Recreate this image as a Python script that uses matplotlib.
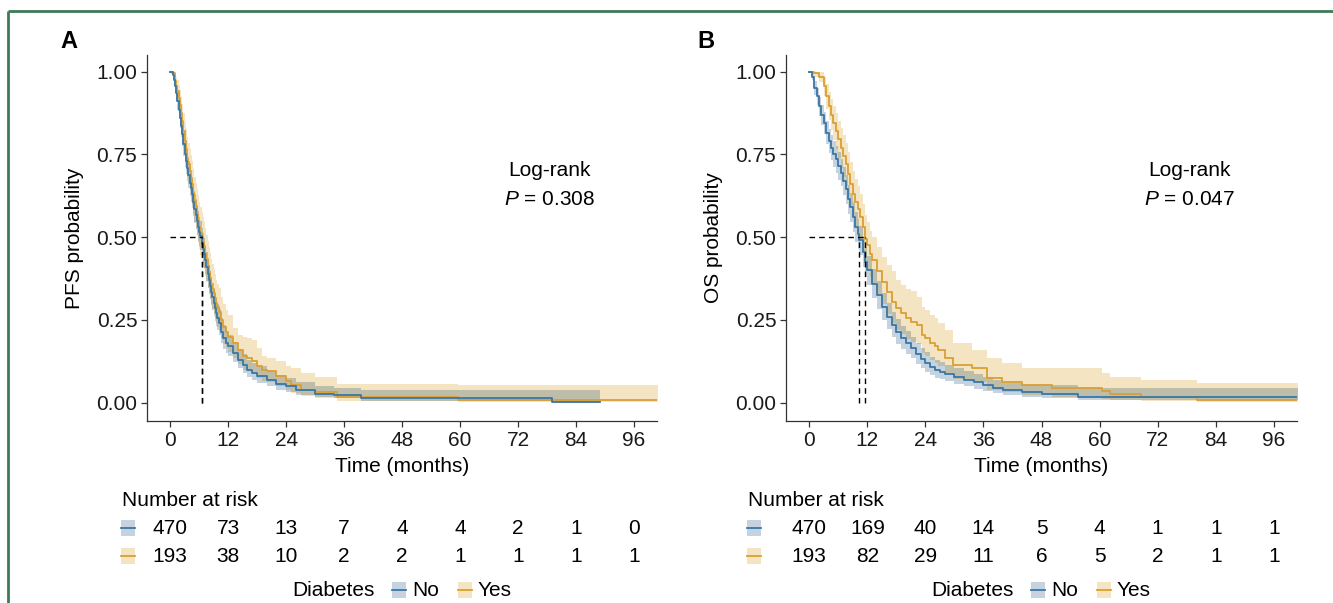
import numpy as np
import matplotlib
matplotlib.use("Agg")
import matplotlib.pyplot as plt
from matplotlib.patches import Rectangle
from matplotlib.transforms import blended_transform_factory

plt.rcParams["font.family"] = ["Liberation Sans", "DejaVu Sans"]
plt.rcParams["mathtext.fontset"] = "custom"
plt.rcParams["mathtext.rm"] = "Liberation Sans"
plt.rcParams["mathtext.it"] = "Liberation Sans:italic"

# ---- data ----
risk_times = [0, 12, 24, 36, 48, 60, 72, 84, 96]

# PFS, no diabetes
pfs_no_t = [0, 0.25, 0.5, 0.75, 1, 1.25, 1.5, 1.75, 2, 2.25, 2.5, 2.75, 3, 3.25, 3.5, 3.75,
            4, 4.25, 4.5, 4.75, 5, 5.25, 5.5, 5.75, 6, 6.25, 6.5, 6.75, 7, 7.25, 7.5, 7.75,
            8, 8.25, 8.5, 8.75, 9, 9.25, 9.5, 9.75, 10, 10.5, 11, 11.5, 12, 13, 14, 15, 16, 17,
            18, 20, 22, 24, 26, 30, 34, 39.5, 79, 89]
pfs_no_s = [1.0, 0.998, 0.99, 0.975, 0.955, 0.935, 0.91, 0.885, 0.86, 0.835, 0.81, 0.78, 0.75,
            0.73, 0.71, 0.688, 0.665, 0.648, 0.63, 0.607, 0.585, 0.568, 0.55, 0.532, 0.515, 0.503,
            0.48, 0.465, 0.45, 0.43, 0.41, 0.39, 0.37, 0.352, 0.335, 0.318, 0.30, 0.285, 0.27,
            0.255, 0.24, 0.215, 0.195, 0.18, 0.17, 0.15, 0.13, 0.115, 0.10, 0.09, 0.082, 0.07,
            0.058, 0.05, 0.04, 0.028, 0.025, 0.015, 0.003, 0.003]
pfs_no_lo = [1.0, 0.994, 0.98, 0.96, 0.936, 0.912, 0.885, 0.857, 0.83, 0.803, 0.776, 0.745, 0.713,
             0.692, 0.671, 0.648, 0.624, 0.606, 0.588, 0.565, 0.542, 0.525, 0.507, 0.489, 0.472,
             0.46, 0.437, 0.422, 0.408, 0.388, 0.368, 0.348, 0.329, 0.312, 0.296, 0.279, 0.262,
             0.247, 0.233, 0.219, 0.205, 0.181, 0.163, 0.149, 0.14, 0.122, 0.104, 0.09, 0.077,
             0.068, 0.061, 0.05, 0.04, 0.033, 0.025, 0.016, 0.014, 0.005, 0.0, 0.0]
pfs_no_hi = [1.0, 1.0, 1.0, 0.988, 0.974, 0.957, 0.936, 0.913, 0.89, 0.868, 0.846, 0.818, 0.789,
             0.77, 0.751, 0.73, 0.708, 0.692, 0.675, 0.653, 0.631, 0.614, 0.597, 0.579, 0.562,
             0.55, 0.527, 0.512, 0.497, 0.476, 0.456, 0.436, 0.416, 0.398, 0.38, 0.362, 0.344,
             0.328, 0.313, 0.297, 0.282, 0.255, 0.234, 0.217, 0.206, 0.185, 0.163, 0.147, 0.13,
             0.119, 0.11, 0.097, 0.084, 0.075, 0.064, 0.05, 0.046, 0.04, 0.04, 0.04]

# PFS, diabetes
pfs_yes_t = [0, 0.5, 1, 1.25, 1.5, 1.75, 2, 2.25, 2.5, 2.75, 3, 3.25, 3.5, 3.75, 4, 4.25, 4.5,
             4.75, 5, 5.25, 5.5, 5.75, 6, 6.25, 6.5, 6.75, 7, 7.25, 7.5, 7.75, 8, 8.25, 8.5, 8.75,
             9, 9.25, 9.5, 9.75, 10, 10.5, 11, 11.5, 12, 13, 14, 15, 16, 17, 18, 19, 20, 22, 24,
             25, 27, 30, 34.5, 59.5, 105]
pfs_yes_s = [1.0, 0.995, 0.97, 0.955, 0.94, 0.92, 0.90, 0.875, 0.85, 0.82, 0.79, 0.765, 0.74,
             0.72, 0.70, 0.68, 0.66, 0.635, 0.61, 0.59, 0.57, 0.55, 0.53, 0.514, 0.498, 0.484,
             0.47, 0.45, 0.43, 0.412, 0.395, 0.378, 0.36, 0.345, 0.33, 0.315, 0.30, 0.288, 0.275,
             0.25, 0.23, 0.215, 0.20, 0.18, 0.16, 0.14, 0.135, 0.125, 0.11, 0.10, 0.095, 0.08,
             0.065, 0.055, 0.04, 0.033, 0.016, 0.008, 0.008]
pfs_yes_lo = [1.0, 0.985, 0.946, 0.927, 0.907, 0.883, 0.859, 0.83, 0.801, 0.768, 0.735, 0.708,
              0.682, 0.66, 0.639, 0.618, 0.597, 0.571, 0.545, 0.524, 0.504, 0.483, 0.463, 0.447,
              0.431, 0.417, 0.404, 0.384, 0.365, 0.348, 0.331, 0.314, 0.298, 0.284, 0.27, 0.256,
              0.242, 0.23, 0.219, 0.196, 0.178, 0.165, 0.152, 0.134, 0.117, 0.1, 0.095, 0.087,
              0.075, 0.067, 0.062, 0.05, 0.038, 0.03, 0.02, 0.015, 0.005, 0.001, 0.001]
pfs_yes_hi = [1.0, 1.0, 0.994, 0.984, 0.974, 0.958, 0.943, 0.922, 0.902, 0.876, 0.849, 0.826,
              0.803, 0.785, 0.767, 0.748, 0.73, 0.706, 0.683, 0.664, 0.645, 0.626, 0.607, 0.591,
              0.575, 0.561, 0.547, 0.527, 0.507, 0.489, 0.471, 0.453, 0.435, 0.42, 0.404, 0.388,
              0.372, 0.359, 0.346, 0.319, 0.297, 0.28, 0.264, 0.225, 0.205, 0.2, 0.195, 0.19,
              0.165, 0.14, 0.135, 0.125, 0.11, 0.104, 0.09, 0.079, 0.058, 0.055, 0.055]

# OS, no diabetes
os_no_t = [0, 0.5, 1, 1.5, 2, 2.5, 3, 3.5, 4, 4.5, 5, 5.5, 6, 6.5, 7, 7.5, 8, 8.5, 9, 9.5,
           10, 10.3, 11, 11.5, 12, 13, 14, 15, 16, 17, 18, 19, 20, 21, 22, 23, 24, 25, 26, 27, 28,
           30, 32, 34, 36, 38, 40, 44, 48, 55.5, 105]
os_no_s = [1.0, 0.985, 0.95, 0.925, 0.895, 0.87, 0.845, 0.815, 0.79, 0.77, 0.75, 0.735, 0.715, 0.695,
           0.67, 0.645, 0.615, 0.59, 0.56, 0.53, 0.51, 0.49, 0.455, 0.425, 0.40, 0.36, 0.325, 0.29,
           0.26, 0.235, 0.215, 0.195, 0.18, 0.165, 0.148, 0.133, 0.12, 0.109, 0.1, 0.094, 0.088,
           0.078, 0.07, 0.062, 0.054, 0.045, 0.038, 0.032, 0.027, 0.019, 0.019]
os_no_lo = [1.0, 0.974, 0.93, 0.90, 0.867, 0.84, 0.812, 0.78, 0.753, 0.732, 0.711, 0.695, 0.674, 0.653,
            0.627, 0.601, 0.571, 0.546, 0.515, 0.485, 0.465, 0.445, 0.41, 0.38, 0.356, 0.317, 0.283,
            0.25, 0.222, 0.198, 0.179, 0.161, 0.147, 0.134, 0.118, 0.105, 0.094, 0.084, 0.076, 0.071,
            0.066, 0.057, 0.05, 0.043, 0.036, 0.029, 0.023, 0.018, 0.014, 0.008, 0.008]
os_no_hi = [1.0, 0.996, 0.97, 0.95, 0.923, 0.9, 0.878, 0.85, 0.827, 0.808, 0.789, 0.775, 0.756, 0.737,
            0.713, 0.689, 0.659, 0.634, 0.605, 0.575, 0.555, 0.535, 0.5, 0.47, 0.444, 0.403, 0.367,
            0.331, 0.3, 0.274, 0.253, 0.232, 0.216, 0.2, 0.182, 0.166, 0.152, 0.139, 0.129, 0.122,
            0.115, 0.104, 0.095, 0.086, 0.078, 0.068, 0.06, 0.055, 0.054, 0.046, 0.046]

# OS, diabetes
os_yes_t = [0, 1, 2, 3, 3.5, 4, 4.5, 5, 5.5, 6, 6.5, 7, 7.5, 8, 8.5, 9, 9.5, 10, 10.5, 11,
            11.5, 12, 12.5, 13, 14, 15, 16, 17, 18, 19, 20, 21, 22.3, 23.3, 24, 25, 26, 26.7, 28.1,
            29.8, 33.6, 36.7, 39.8, 44, 50.2, 60.4, 62.1, 68.6, 80.1, 105]
os_yes_s = [1.0, 0.995, 0.985, 0.955, 0.925, 0.895, 0.87, 0.845, 0.82, 0.795, 0.77, 0.745, 0.72, 0.69,
            0.66, 0.63, 0.605, 0.585, 0.56, 0.53, 0.495, 0.475, 0.45, 0.43, 0.397, 0.365, 0.335,
            0.305, 0.285, 0.27, 0.255, 0.245, 0.235, 0.205, 0.195, 0.18, 0.17, 0.16, 0.134, 0.114,
            0.104, 0.074, 0.064, 0.054, 0.045, 0.035, 0.026, 0.018, 0.008, 0.008]
os_yes_lo = [1.0, 0.985, 0.967, 0.926, 0.888, 0.853, 0.823, 0.794, 0.766, 0.738, 0.71, 0.683, 0.656,
             0.624, 0.592, 0.561, 0.535, 0.514, 0.49, 0.459, 0.424, 0.404, 0.38, 0.36, 0.328, 0.297,
             0.268, 0.24, 0.221, 0.207, 0.194, 0.185, 0.176, 0.15, 0.141, 0.128, 0.119, 0.11, 0.089,
             0.072, 0.064, 0.04, 0.033, 0.025, 0.018, 0.012, 0.007, 0.004, 0.001, 0.001]
os_yes_hi = [1.0, 1.0, 1.0, 0.984, 0.962, 0.937, 0.917, 0.896, 0.874, 0.852, 0.83, 0.807, 0.784, 0.756,
             0.728, 0.699, 0.675, 0.656, 0.63, 0.601, 0.566, 0.546, 0.52, 0.5, 0.47, 0.44, 0.415,
             0.397, 0.37, 0.355, 0.345, 0.336, 0.32, 0.29, 0.28, 0.265, 0.255, 0.24, 0.22, 0.18, 0.16,
             0.134, 0.12, 0.104, 0.104, 0.091, 0.079, 0.069, 0.061, 0.061]

pfs_risk_no = [470, 73, 13, 7, 4, 4, 2, 1, 0]
pfs_risk_yes = [193, 38, 10, 2, 2, 1, 1, 1, 1]
os_risk_no = [470, 169, 40, 14, 5, 4, 1, 1, 1]
os_risk_yes = [193, 82, 29, 11, 6, 5, 2, 1, 1]

pfs_p = "0.308"
os_p = "0.047"

# ---- style ----
LINE_NO = "#3a77a4"
LINE_YES = "#d9a035"
FILL_NO = "#c5d3e1"
FILL_YES = "#f5e4c2"
FILL_BOTH = "#bdbdaa"
FS = 15


def step_at(t, v, grid):
    idx = np.searchsorted(t, grid, side="right") - 1
    return np.asarray(v)[np.clip(idx, 0, len(v) - 1)]


def draw_panel(ax, no, yes, ylabel, p_text):
    t1, s1, lo1, hi1 = [np.asarray(a, dtype=float) for a in no]
    t2, s2, lo2, hi2 = [np.asarray(a, dtype=float) for a in yes]

    ax.fill_between(t2, lo2, hi2, step="post", color=FILL_YES, lw=0, zorder=1)
    ax.fill_between(t1, lo1, hi1, step="post", color=FILL_NO, lw=0, zorder=1.1)

    # overlapping part of the two bands
    grid = np.union1d(t1, t2)
    grid = grid[grid <= min(t1[-1], t2[-1])]
    lo = np.maximum(step_at(t1, lo1, grid), step_at(t2, lo2, grid))
    hi = np.minimum(step_at(t1, hi1, grid), step_at(t2, hi2, grid))
    ax.fill_between(grid, lo, np.maximum(hi, lo), step="post", color=FILL_BOTH, lw=0, zorder=1.2)

    ax.step(t2, s2, where="post", color=LINE_YES, lw=1.3, zorder=3)
    ax.step(t1, s1, where="post", color=LINE_NO, lw=1.3, zorder=3.1)

    # median survival lines
    meds = [t1[np.argmax(s1 <= 0.5)], t2[np.argmax(s2 <= 0.5)]]
    ax.plot([0, max(meds)], [0.5, 0.5], ls=(0, (4, 3)), color="black", lw=1.0, zorder=4)
    for m in meds:
        ax.plot([m, m], [0, 0.5], ls=(0, (4, 3)), color="black", lw=1.0, zorder=4)

    ax.set_xlim(-4.8, 100.8)
    ax.set_ylim(-0.055, 1.05)
    ax.set_xticks(risk_times)
    ax.set_yticks([0, 0.25, 0.5, 0.75, 1.0])
    ax.set_yticklabels(["0.00", "0.25", "0.50", "0.75", "1.00"])
    for side in ("top", "right"):
        ax.spines[side].set_visible(False)
    for side in ("left", "bottom"):
        ax.spines[side].set_color("#333333")
        ax.spines[side].set_linewidth(0.9)
    ax.tick_params(labelsize=FS, length=4, width=0.9, color="#333333", labelcolor="#1a1a1a", pad=3)
    ax.set_xlabel("Time (months)", fontsize=FS, labelpad=5)
    ax.set_ylabel(ylabel, fontsize=FS, labelpad=9)

    ax.text(78.5, 0.70, "Log-rank", fontsize=FS, ha="center", va="center")
    ax.text(78.5, 0.615, r"$\it{P}$ = " + p_text, fontsize=FS, ha="center", va="center")


fig = plt.figure(figsize=(13.33, 6.03), dpi=100)
lay = fig.add_axes([0, 0, 1, 1], zorder=-1)
lay.set_xlim(0, 1333)
lay.set_ylim(603, 0)
lay.axis("off")

ax_a = fig.add_axes([0.1103, 0.3018, 0.3826, 0.607])
ax_b = fig.add_axes([0.5897, 0.3018, 0.3833, 0.607])

draw_panel(ax_a, (pfs_no_t, pfs_no_s, pfs_no_lo, pfs_no_hi),
           (pfs_yes_t, pfs_yes_s, pfs_yes_lo, pfs_yes_hi), "PFS probability", pfs_p)
draw_panel(ax_b, (os_no_t, os_no_s, os_no_lo, os_no_hi),
           (os_yes_t, os_yes_s, os_yes_lo, os_yes_hi), "OS probability", os_p)

# green frame lines
lay.plot([8, 1333], [11, 11], color="#3d7a58", lw=2, solid_capstyle="butt")
lay.plot([8, 8], [11, 603], color="#3d7a58", lw=2, solid_capstyle="butt")

panels = [
    (ax_a, "A", 60, 122, pfs_risk_no, pfs_risk_yes, 292),
    (ax_b, "B", 697, 748, os_risk_no, os_risk_yes, 931),
]
for ax, letter, lx, tx, r_no, r_yes, leg_x in panels:
    lay.text(lx, 42, letter, fontsize=17, fontweight="bold", ha="left", va="center")
    lay.text(tx, 500, "Number at risk", fontsize=FS, ha="left", va="center")
    tr = blended_transform_factory(ax.transData, lay.transData)
    for row_y, vals, fc, lc in [(528, r_no, FILL_NO, LINE_NO), (556, r_yes, FILL_YES, LINE_YES)]:
        lay.add_patch(Rectangle((tx - 1, row_y - 8), 14, 16, fc=fc, ec="none"))
        lay.plot([tx - 1, tx + 13], [row_y, row_y], color=lc, lw=1.3)
        for t, v in zip(risk_times, vals):
            lay.text(t, row_y, str(v), transform=tr, fontsize=FS, ha="center", va="center")

    # legend
    lay.text(leg_x, 590, "Diabetes", fontsize=FS, ha="left", va="center")
    x = leg_x + 100
    for name, fc, lc in [("No", FILL_NO, LINE_NO), ("Yes", FILL_YES, LINE_YES)]:
        lay.add_patch(Rectangle((x, 582), 14, 16, fc=fc, ec="none"))
        lay.plot([x, x + 14], [590, 590], color=lc, lw=1.3)
        lay.text(x + 20, 590, name, fontsize=FS, ha="left", va="center")
        x += 66

fig.savefig("out.png", dpi=100)
